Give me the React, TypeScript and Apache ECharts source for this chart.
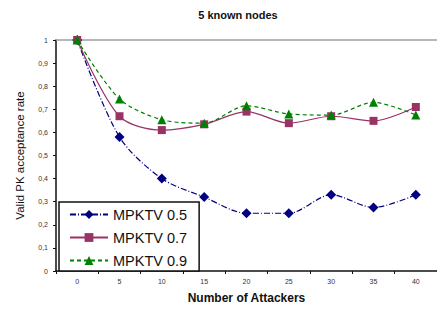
import React, { useEffect, useRef } from "react";
import * as echarts from "echarts";

const categories = ["0", "5", "10", "15", "20", "25", "30", "35", "40"];
const seriesNames = ["MPKTV 0.5", "MPKTV 0.7", "MPKTV 0.9"];
const mpktv05 = [1, 0.58, 0.4, 0.32, 0.25, 0.25, 0.33, 0.275, 0.33];
const mpktv07 = [1, 0.67, 0.61, 0.635, 0.69, 0.64, 0.67, 0.65, 0.71];
const mpktv09 = [1, 0.745, 0.655, 0.64, 0.715, 0.68, 0.675, 0.73, 0.675];

const FONT = "'Liberation Sans', Arial, sans-serif";

export default function App() {
  const ref = useRef<HTMLDivElement>(null);
  useEffect(() => {
    if (!ref.current) return;
    const chart = echarts.init(ref.current, undefined, { renderer: "svg" });
    chart.setOption({
      animation: false,
      backgroundColor: "#fff",
      title: {
        text: "5 known nodes",
        left: 233,
        top: 4,
        textAlign: "center",
        textStyle: { fontFamily: FONT, fontSize: 11, fontWeight: "bold", color: "#111" },
      },
      legend: {
        orient: "vertical",
        left: 59,
        top: 202,
        itemWidth: 38,
        itemHeight: 11,
        itemGap: 8,
        padding: [5, 12, 3, 10],
        borderColor: "#111",
        borderWidth: 1.5,
        backgroundColor: "#fff",
        textStyle: { fontFamily: FONT, fontSize: 14.5, color: "#111", lineHeight: 15 },
        data: seriesNames,
      },
      grid: { left: 56, right: -6, top: 40, bottom: 36 },
      xAxis: [
        {
          type: "category",
          data: categories,
          boundaryGap: true,
          name: "Number of Attackers",
          nameLocation: "middle",
          nameGap: 21,
          nameTextStyle: { fontFamily: FONT, fontSize: 12, fontWeight: "bold", color: "#111" },
          axisLine: { lineStyle: { color: "#111", width: 1.5 } },
          axisTick: { show: true, length: 3, lineStyle: { color: "#111" } },
          axisLabel: { fontFamily: FONT, fontSize: 7, color: "#333", margin: 7 },
        },
        {
          type: "category",
          data: categories,
          position: "top",
          axisLine: { lineStyle: { color: "#a0a0a0", width: 1.5 } },
          axisTick: { show: false },
          axisLabel: { show: false },
        },
      ],
      yAxis: {
        type: "value",
        min: 0,
        max: 1,
        interval: 0.1,
        name: "Valid PK acceptance rate",
        nameLocation: "middle",
        nameGap: 30,
        nameTextStyle: { fontFamily: FONT, fontSize: 11.5, color: "#111" },
        axisLine: { show: true, lineStyle: { color: "#111", width: 1.5 } },
        axisTick: { show: true, length: 3, lineStyle: { color: "#111" } },
        splitLine: { show: false },
        axisLabel: {
          fontFamily: FONT,
          fontSize: 7,
          color: "#333",
          margin: 8,
          formatter: (v: number) => {
            const s = Math.round(v * 10) / 10;
            return String(s).replace(".", ",");
          },
        },
      },
      series: [
        {
          name: seriesNames[0],
          type: "line",
          data: mpktv05,
          smooth: 0.3,
          symbol: "diamond",
          symbolSize: 10,
          itemStyle: { color: "#000080" },
          lineStyle: { color: "#000080", width: 1.2, type: [6, 2, 1, 2] },
        },
        {
          name: seriesNames[1],
          type: "line",
          data: mpktv07,
          smooth: 0.3,
          symbol: "rect",
          symbolSize: 8,
          itemStyle: { color: "#993366" },
          lineStyle: { color: "#993366", width: 1.2 },
        },
        {
          name: seriesNames[2],
          type: "line",
          data: mpktv09,
          smooth: 0.3,
          symbol: "triangle",
          symbolSize: 9,
          itemStyle: { color: "#008000" },
          lineStyle: { color: "#008000", width: 1.2, type: [4, 3] },
        },
      ],
    });
    return () => chart.dispose();
  }, []);
  return <div ref={ref} style={{ width: 437, height: 309, position: "absolute", left: 0, top: 0 }} />;
}
